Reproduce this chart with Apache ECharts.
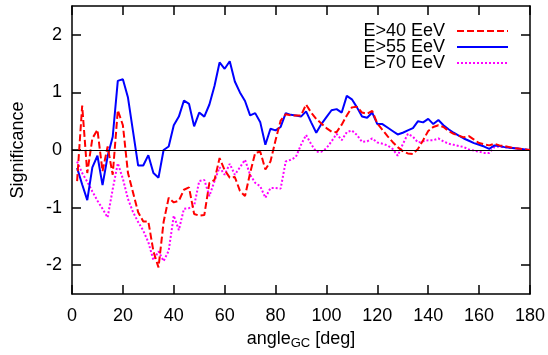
<!DOCTYPE html>
<html>
<head>
<meta charset="utf-8">
<script src="https://cdn.jsdelivr.net/npm/echarts@6/dist/echarts.min.js"></script>
<style>
  html, body { margin: 0; padding: 0; background: #fff; }
  #chart { width: 548px; height: 355px; }
</style>
</head>
<body>
<div id="chart"></div>
<script>
// angle from the Galactic Centre, deg
const angles = [
  2, 4, 6, 8, 10, 12, 14, 16, 18, 20, 22, 24, 26, 28, 30, 32, 34, 36, 38, 40,
  42, 44, 46, 48, 50, 52, 54, 56, 58, 60, 62, 64, 66, 68, 70, 72, 74, 76, 78, 80,
  82, 84, 86, 88, 90, 92, 94, 96, 98, 100, 102, 104, 106, 108, 110, 112, 114, 116, 118, 120,
  122, 124, 126, 128, 130, 132, 134, 136, 138, 140, 142, 144, 146, 148, 150, 152, 154, 156, 158, 160,
  162, 164, 166, 168, 170, 172, 174, 176, 178, 180
]

const e40 = [
  -0.54, 0.77, -0.4, 0.2, 0.35, -0.37, 0.06, -0.43, 0.69, 0.43, -0.4, -0.74, -1.08, -1.24, -1.24, -1.76, -2.04, -1.25, -0.83, -0.91,
  -0.88, -0.69, -0.65, -1.11, -1.14, -1.13, -0.57, -0.52, -0.14, -0.35, -0.48, -0.47, -0.71, -0.8, -0.4, -0.05, -0.03, -0.34, -0.2, 0.17,
  0.51, 0.62, 0.6, 0.6, 0.6, 0.79, 0.65, 0.54, 0.46, 0.38, 0.32, 0.31, 0.44, 0.6, 0.74, 0.75, 0.65, 0.63, 0.68, 0.46,
  0.35, 0.24, 0.14, 0.05, -0.02, -0.06, -0.07, 0.02, 0.17, 0.33, 0.4, 0.43, 0.4, 0.33, 0.28, 0.25, 0.22, 0.24, 0.18, 0.12,
  0.1, 0.08, 0.11, 0.08, 0.07, 0.05, 0.03, 0.02, 0.01, 0
]

const e55 = [
  -0.31, -0.6, -0.87, -0.3, -0.1, -0.61, -0.11, 0.23, 1.2, 1.23, 0.91, 0.32, -0.27, -0.27, -0.09, -0.4, -0.48, 0.0, 0.06, 0.43,
  0.58, 0.86, 0.8, 0.41, 0.65, 0.58, 0.79, 1.11, 1.52, 1.41, 1.54, 1.19, 1.0, 0.85, 0.6, 0.64, 0.48, 0.09, 0.37, 0.34,
  0.4, 0.64, 0.61, 0.6, 0.58, 0.67, 0.48, 0.3, 0.45, 0.57, 0.69, 0.71, 0.65, 0.94, 0.88, 0.74, 0.58, 0.56, 0.65, 0.45,
  0.45, 0.39, 0.33, 0.27, 0.3, 0.34, 0.38, 0.5, 0.48, 0.54, 0.45, 0.52, 0.43, 0.36, 0.3, 0.25, 0.2, 0.16, 0.12, 0.09,
  0.06, 0.02, 0.08, 0.07, 0.05, 0.04, 0.03, 0.02, 0.01, 0
]

const e70 = [
  -0.2, -0.4, -0.55, -0.72, -0.88, -1.02, -1.17, -0.68, -0.23, -0.5, -0.85, -1.08, -1.25, -1.4, -1.6, -1.91, -1.76, -1.93, -1.75, -1.14,
  -1.39, -1.02, -1.01, -0.97, -0.54, -0.52, -0.8, -0.54, -0.3, -0.43, -0.24, -0.43, -0.3, -0.17, -0.43, -0.57, -0.63, -0.83, -0.66, -0.66,
  -0.67, -0.2, -0.17, -0.12, 0.09, 0.26, 0.1, -0.03, -0.03, 0.03, 0.15, 0.28, 0.17, 0.31, 0.34, 0.26, 0.14, 0.15, 0.2, 0.13,
  0.11, 0.08, 0.02, -0.1, 0.1, 0.28, 0.23, 0.13, 0.15, 0.17, 0.17, 0.2, 0.15, 0.11, 0.09, 0.07, 0.05, 0.01, -0.01, -0.03,
  -0.05, -0.05, 0.05, 0.06, 0.05, 0.04, 0.03, 0.02, 0.01, 0
]

const seriesNames = ['E>40 EeV', 'E>55 EeV', 'E>70 EeV']
const yTicks = [-2, -1, 0, 1, 2]

const font = 'Liberation Sans, Arial, sans-serif'
const pairs = (vals) => angles.map((a, i) => [a, vals[i]])

const chart = echarts.init(document.getElementById('chart'), null, { renderer: 'canvas' })

const tickStyle = { inside: true, length: 9, lineStyle: { color: '#000', width: 1.5 } }
const lineStyle = { show: true, onZero: false, lineStyle: { color: '#000', width: 1.5 } }

const option = {
  animation: false,
  backgroundColor: '#fff',
  textStyle: { fontFamily: font, color: '#000' },
  grid: { left: 72, right: 18, top: 6, bottom: 55 },
  legend: {
    orient: 'vertical',
    right: 34,
    top: 17,
    align: 'right',
    itemWidth: 51,
    itemHeight: 12,
    itemGap: -2,
    itemStyle: { color: 'rgba(0,0,0,0)', borderWidth: 0 },
    textStyle: { fontSize: 18, lineHeight: 18, fontFamily: font, color: '#000', padding: [0, 7, 0, 0] },
    data: seriesNames
  },
  xAxis: [{
    type: 'value',
    min: 0,
    max: 180,
    interval: 20,
    name: 'angle{sub|GC} [deg]',
    nameLocation: 'middle',
    nameGap: 35,
    nameTextStyle: {
      fontSize: 18, color: '#000', fontFamily: font,
      rich: { sub: { fontSize: 13, verticalAlign: 'bottom', padding: [8, 0, 0, 0], fontFamily: font, color: '#000' } }
    },
    axisLine: lineStyle,
    axisTick: tickStyle,
    axisLabel: { fontSize: 18, color: '#000', margin: 13, fontFamily: font },
    splitLine: { show: false }
  }, {
    type: 'value',
    position: 'top',
    min: 0,
    max: 180,
    interval: 20,
    axisLine: lineStyle,
    axisTick: tickStyle,
    axisLabel: { show: false },
    splitLine: { show: false }
  }],
  yAxis: [{
    type: 'value',
    min: -2.5,
    max: 2.5,
    name: 'Significance',
    nameLocation: 'middle',
    nameGap: 45,
    nameTextStyle: { fontSize: 18, color: '#000', fontFamily: font },
    axisLine: lineStyle,
    axisTick: Object.assign({ customValues: yTicks }, tickStyle),
    axisLabel: { customValues: yTicks, fontSize: 18, color: '#000', margin: 10, fontFamily: font },
    splitLine: { show: false }
  }, {
    type: 'value',
    position: 'right',
    min: -2.5,
    max: 2.5,
    axisLine: lineStyle,
    axisTick: Object.assign({ customValues: yTicks }, tickStyle),
    axisLabel: { show: false },
    splitLine: { show: false }
  }],
  series: [{
    name: seriesNames[0],
    type: 'line',
    data: pairs(e40),
    symbol: 'none',
    z: 4,
    lineStyle: { color: '#ff0000', width: 2, type: [7, 3] },
    itemStyle: { color: '#ff0000' },
    markLine: {
      silent: true,
      symbol: 'none',
      label: { show: false },
      lineStyle: { color: '#000', width: 1, type: 'solid' },
      data: [{ yAxis: 0 }]
    }
  }, {
    name: seriesNames[1],
    type: 'line',
    data: pairs(e55),
    symbol: 'none',
    z: 3,
    lineStyle: { color: '#0000ff', width: 2 },
    itemStyle: { color: '#0000ff' }
  }, {
    name: seriesNames[2],
    type: 'line',
    data: pairs(e70),
    symbol: 'none',
    z: 2,
    lineStyle: { color: '#ff00ff', width: 2, type: [2, 2] },
    itemStyle: { color: '#ff00ff' }
  }]
}

chart.setOption(option)
</script>
</body>
</html>
